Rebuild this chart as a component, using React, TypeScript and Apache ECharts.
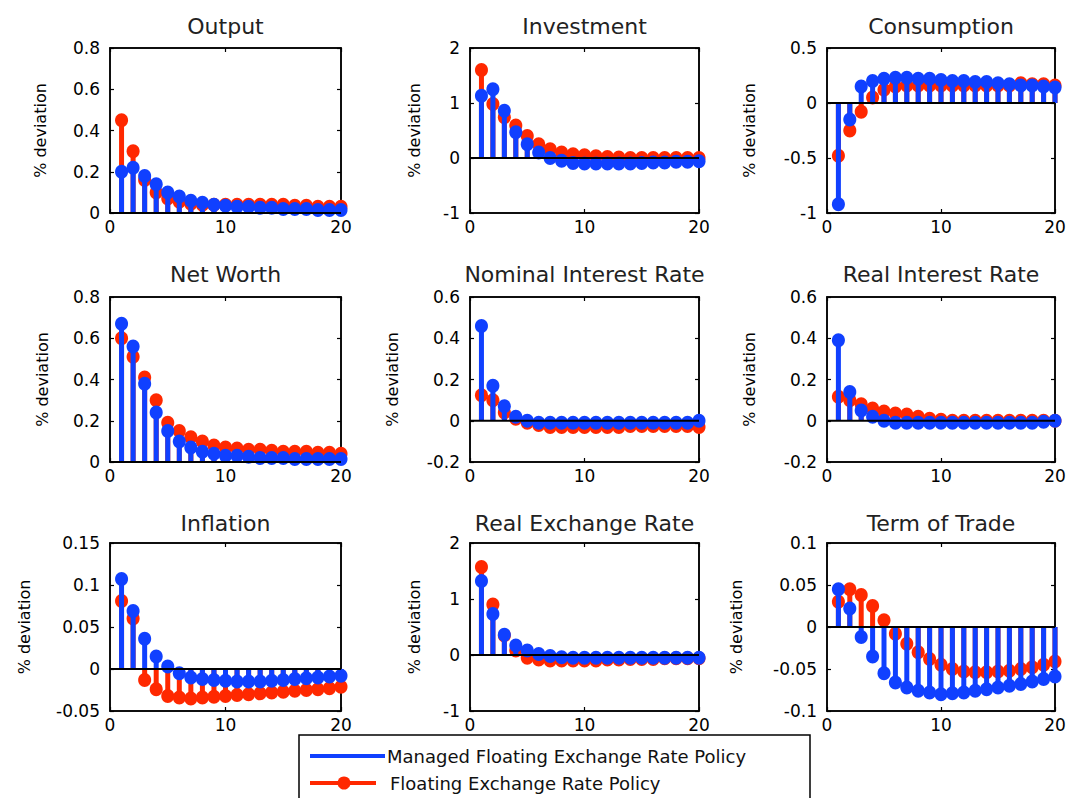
import React, { useEffect, useRef } from "react";
import * as echarts from "echarts";

const PERIODS = [1, 2, 3, 4, 5, 6, 7, 8, 9, 10, 11, 12, 13, 14, 15, 16, 17, 18, 19, 20];
const X_TICKS = { min: 0, max: 20, interval: 10 };

const TITLES = [
  "Output", "Investment", "Consumption",
  "Net Worth", "Nominal Interest Rate", "Real Interest Rate",
  "Inflation", "Real Exchange Rate", "Term of Trade",
];
const Y_MIN = [0, -1, -1, 0, -0.2, -0.2, -0.05, -1, -0.1];
const Y_MAX = [0.8, 2, 0.5, 0.8, 0.6, 0.6, 0.15, 2, 0.1];
const Y_STEP = [0.2, 1, 0.5, 0.2, 0.2, 0.2, 0.05, 1, 0.05];
const Y_NAME = "% deviation";

const SERIES_NAMES = ["Managed Floating Exchange Rate Policy", "Floating Exchange Rate Policy"];

// Managed floating exchange rate policy (blue)
const outputManaged = [0.2, 0.22, 0.18, 0.14, 0.1, 0.08, 0.06, 0.05, 0.04, 0.035, 0.03, 0.03, 0.025, 0.025, 0.02, 0.02, 0.02, 0.015, 0.015, 0.015];
const investmentManaged = [1.13, 1.25, 0.86, 0.47, 0.25, 0.1, 0.0, -0.05, -0.09, -0.1, -0.1, -0.1, -0.1, -0.1, -0.09, -0.08, -0.08, -0.07, -0.07, -0.06];
const consumptionManaged = [-0.92, -0.15, 0.15, 0.2, 0.22, 0.23, 0.23, 0.22, 0.22, 0.21, 0.2, 0.2, 0.19, 0.19, 0.18, 0.17, 0.16, 0.16, 0.15, 0.14];
const netWorthManaged = [0.67, 0.56, 0.38, 0.24, 0.15, 0.1, 0.07, 0.05, 0.04, 0.03, 0.03, 0.025, 0.02, 0.02, 0.02, 0.015, 0.015, 0.015, 0.015, 0.015];
const nominalRateManaged = [0.46, 0.17, 0.07, 0.02, 0.0, -0.01, -0.01, -0.01, -0.01, -0.01, -0.01, -0.01, -0.01, -0.01, -0.01, -0.01, -0.01, -0.01, -0.01, 0.0];
const realRateManaged = [0.39, 0.14, 0.05, 0.02, 0.0, -0.01, -0.01, -0.01, -0.01, -0.01, -0.01, -0.01, -0.01, -0.01, -0.01, -0.01, -0.01, -0.01, -0.005, 0.0];
const inflationManaged = [0.107, 0.069, 0.036, 0.015, 0.003, -0.005, -0.01, -0.012, -0.013, -0.014, -0.015, -0.015, -0.015, -0.014, -0.013, -0.012, -0.011, -0.01, -0.009, -0.008];
const exchangeRateManaged = [1.32, 0.73, 0.36, 0.17, 0.08, 0.02, -0.02, -0.04, -0.05, -0.05, -0.05, -0.05, -0.05, -0.05, -0.05, -0.05, -0.05, -0.05, -0.05, -0.05];
const termsOfTradeManaged = [0.045, 0.022, -0.012, -0.035, -0.055, -0.066, -0.072, -0.076, -0.078, -0.08, -0.079, -0.078, -0.076, -0.074, -0.072, -0.07, -0.068, -0.065, -0.062, -0.059];

// Floating exchange rate policy (red)
const outputFloating = [0.45, 0.3, 0.16, 0.1, 0.07, 0.055, 0.045, 0.04, 0.04, 0.04, 0.04, 0.04, 0.04, 0.04, 0.04, 0.035, 0.035, 0.03, 0.03, 0.03];
const investmentFloating = [1.6, 0.98, 0.74, 0.59, 0.4, 0.25, 0.16, 0.1, 0.07, 0.05, 0.03, 0.02, 0.01, 0.0, 0.0, 0.0, 0.0, 0.0, 0.0, 0.0];
const consumptionFloating = [-0.48, -0.25, -0.08, 0.05, 0.12, 0.15, 0.16, 0.16, 0.16, 0.16, 0.16, 0.16, 0.16, 0.16, 0.16, 0.16, 0.18, 0.17, 0.17, 0.16];
const netWorthFloating = [0.6, 0.51, 0.41, 0.3, 0.19, 0.15, 0.12, 0.1, 0.08, 0.07, 0.065, 0.06, 0.06, 0.055, 0.05, 0.05, 0.05, 0.045, 0.045, 0.04];
const nominalRateFloating = [0.124, 0.1, 0.04, 0.01, -0.01, -0.02, -0.03, -0.03, -0.03, -0.03, -0.03, -0.03, -0.03, -0.025, -0.025, -0.025, -0.025, -0.025, -0.025, -0.03];
const realRateFloating = [0.116, 0.1, 0.08, 0.06, 0.045, 0.035, 0.03, 0.02, 0.01, 0.005, 0.0, 0.0, 0.0, 0.0, 0.0, 0.0, 0.0, 0.0, 0.0, 0.0];
const inflationFloating = [0.081, 0.06, -0.013, -0.024, -0.032, -0.034, -0.035, -0.034, -0.033, -0.032, -0.031, -0.03, -0.029, -0.028, -0.027, -0.026, -0.025, -0.024, -0.023, -0.021];
const exchangeRateFloating = [1.57, 0.9, 0.35, 0.08, -0.05, -0.08, -0.1, -0.1, -0.1, -0.1, -0.1, -0.08, -0.08, -0.07, -0.07, -0.07, -0.06, -0.06, -0.06, -0.06];
const termsOfTradeFloating = [0.03, 0.045, 0.038, 0.025, 0.008, -0.008, -0.02, -0.03, -0.038, -0.045, -0.05, -0.053, -0.054, -0.054, -0.053, -0.052, -0.05, -0.048, -0.045, -0.041];

const MANAGED = [outputManaged, investmentManaged, consumptionManaged, netWorthManaged, nominalRateManaged, realRateManaged, inflationManaged, exchangeRateManaged, termsOfTradeManaged];
const FLOATING = [outputFloating, investmentFloating, consumptionFloating, netWorthFloating, nominalRateFloating, realRateFloating, inflationFloating, exchangeRateFloating, termsOfTradeFloating];

const BLUE = "#1040ff";
const RED = "#ff2800";
const FONT = "DejaVu Sans";

const GRID_LEFT = [110, 470, 827];
const GRID_WIDTH = [231, 229, 228];
const GRID_TOP = [48, 297, 543];
const GRID_HEIGHT = [165, 165, 168];
const TITLE_Y = [26, 274, 523];
const NAME_GAP = [62, 48, 70, 60, 70, 70, 78, 48, 83];

function stemRender(color: string) {
  return (params: any, api: any) => {
    const x = api.value(0);
    const y = api.value(1);
    const base = api.coord([x, 0]);
    const tip = api.coord([x, y]);
    return {
      type: "group",
      children: [
        {
          type: "line",
          shape: { x1: base[0], y1: base[1], x2: tip[0], y2: tip[1] },
          style: { stroke: color, lineWidth: 5 },
        },
        {
          type: "ellipse",
          shape: { cx: tip[0], cy: tip[1], rx: 6.5, ry: 7 },
          style: { fill: color },
        },
      ],
    };
  };
}

function fmt(v: number) {
  return String(Math.round(v * 1000) / 1000);
}

export default function App() {
  const ref = useRef<HTMLDivElement>(null);
  useEffect(() => {
    if (!ref.current) return;
    const chart = echarts.init(ref.current, undefined, { renderer: "svg" });
    const grids: any[] = [];
    const xAxes: any[] = [];
    const yAxes: any[] = [];
    const series: any[] = [];
    const graphics: any[] = [];
    const axisLine = { show: true, onZero: false, lineStyle: { color: "#000", width: 1.5 } };
    const axisTick = { show: true, inside: true, length: 4, lineStyle: { color: "#000", width: 1.2 } };

    for (let i = 0; i < 9; i++) {
      const r = Math.floor(i / 3);
      const c = i % 3;
      grids.push({
        left: GRID_LEFT[c],
        top: GRID_TOP[r],
        width: GRID_WIDTH[c],
        height: GRID_HEIGHT[r],
        show: true,
        backgroundColor: "transparent",
        borderColor: "#000",
        borderWidth: 1.5,
      });
      const xBase = { gridIndex: i, type: "value", min: X_TICKS.min, max: X_TICKS.max, interval: X_TICKS.interval, axisLine, axisTick, splitLine: { show: false } };
      xAxes.push({
        ...xBase,
        position: "bottom",
        axisLabel: { margin: 5, fontSize: 17, color: "#000", fontFamily: FONT },
      });
      xAxes.push({ ...xBase, position: "top", axisLabel: { show: false } });
      const yBase = { gridIndex: i, type: "value", min: Y_MIN[i], max: Y_MAX[i], interval: Y_STEP[i], axisLine, axisTick, splitLine: { show: false } };
      yAxes.push({
        ...yBase,
        position: "left",
        name: Y_NAME,
        nameLocation: "middle",
        nameGap: NAME_GAP[i],
        nameTextStyle: { fontSize: 16, color: "#000", fontFamily: FONT },
        axisLabel: { margin: 10, fontSize: 17, color: "#000", fontFamily: FONT, formatter: fmt },
      });
      yAxes.push({ ...yBase, position: "right", axisLabel: { show: false } });

      series.push({
        type: "custom",
        name: SERIES_NAMES[1],
        xAxisIndex: 2 * i,
        yAxisIndex: 2 * i,
        renderItem: stemRender(RED),
        data: PERIODS.map((p, k) => [p, FLOATING[i][k]]),
        encode: { x: 0, y: 1 },
        z: 2,
      });
      series.push({
        type: "custom",
        name: SERIES_NAMES[0],
        xAxisIndex: 2 * i,
        yAxisIndex: 2 * i,
        renderItem: stemRender(BLUE),
        data: PERIODS.map((p, k) => [p, MANAGED[i][k]]),
        encode: { x: 0, y: 1 },
        z: 3,
      });
      // stem baseline, on the secondary (top / right) axes which share the same scales
      series.push({
        type: "line",
        xAxisIndex: 2 * i + 1,
        yAxisIndex: 2 * i + 1,
        data: [[X_TICKS.min, 0], [X_TICKS.max, 0]],
        symbol: "none",
        lineStyle: { color: "#000", width: 2 },
        z: 5,
        silent: true,
      });

      graphics.push({
        type: "text",
        x: GRID_LEFT[c] + GRID_WIDTH[c] / 2,
        y: TITLE_Y[r],
        style: {
          text: TITLES[i],
          align: "center",
          verticalAlign: "middle",
          fontSize: 22,
          fontFamily: FONT,
          fill: "#222",
        },
      });
    }

    // legend box
    graphics.push({
      type: "rect",
      shape: { x: 299, y: 735, width: 511, height: 90 },
      style: { fill: "#fff", stroke: "#000", lineWidth: 1.5 },
      z: 10,
    });
    graphics.push({
      type: "line",
      shape: { x1: 310, y1: 756, x2: 385, y2: 756 },
      style: { stroke: BLUE, lineWidth: 4 },
      z: 11,
    });
    graphics.push({
      type: "text",
      x: 387,
      y: 756,
      style: { text: SERIES_NAMES[0], verticalAlign: "middle", fontSize: 18, fontFamily: FONT, fill: "#111" },
      z: 11,
    });
    graphics.push({
      type: "line",
      shape: { x1: 310, y1: 783, x2: 376, y2: 783 },
      style: { stroke: RED, lineWidth: 4 },
      z: 11,
    });
    graphics.push({
      type: "circle",
      shape: { cx: 344, cy: 783, r: 6.5 },
      style: { fill: RED },
      z: 11,
    });
    graphics.push({
      type: "text",
      x: 390,
      y: 783,
      style: { text: SERIES_NAMES[1], verticalAlign: "middle", fontSize: 18, fontFamily: FONT, fill: "#111" },
      z: 11,
    });

    chart.setOption({
      animation: false,
      backgroundColor: "#fff",
      grid: grids,
      xAxis: xAxes,
      yAxis: yAxes,
      series,
      graphic: graphics,
    });
    return () => chart.dispose();
  }, []);
  return (
    <div
      ref={ref}
      style={{ position: "absolute", left: 0, top: 0, width: 1074, height: 798 }}
    />
  );
}
